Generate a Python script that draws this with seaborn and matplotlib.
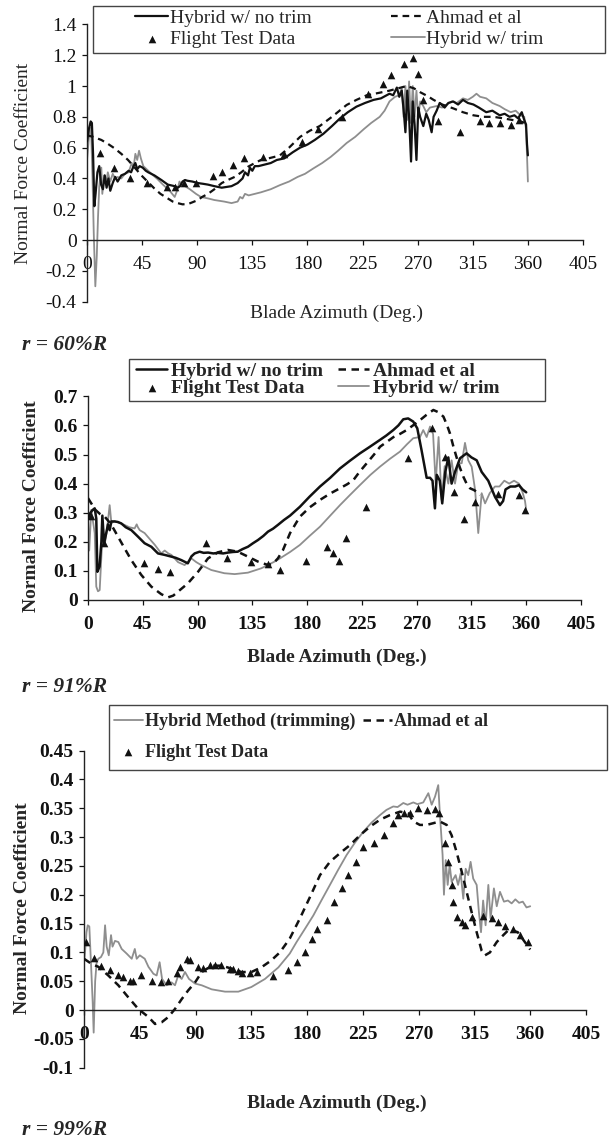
import numpy as np
import pandas as pd
import matplotlib
matplotlib.use("Agg")
import matplotlib.pyplot as plt
import seaborn as sns
from matplotlib.patches import Rectangle
from matplotlib.ticker import FixedLocator, FuncFormatter

# ---------------- data (azimuth deg, normal force coefficient) ----------------
az_ticks = [0, 45, 90, 135, 180, 225, 270, 315, 360, 405]
p1_yticks = [-0.4, -0.2, 0, 0.2, 0.4, 0.6, 0.8, 1.0, 1.2, 1.4]
p2_yticks = [0, 0.1, 0.2, 0.3, 0.4, 0.5, 0.6, 0.7]
p3_yticks = [-0.1, -0.05, 0, 0.05, 0.1, 0.15, 0.2, 0.25, 0.3, 0.35, 0.4, 0.45]

# r = 60%R
p1_notrim = [(0, 0.64), (1.5, 0.72), (3, 0.77), (4, 0.76), (5, 0.55), (6, 0.22), (7, 0.30), (8.5, 0.44),
             (10, 0.48), (11.5, 0.36), (13, 0.33), (14.5, 0.42), (16, 0.34), (17.5, 0.40), (19, 0.32),
             (21, 0.37), (23, 0.41), (25, 0.38), (28, 0.42), (31, 0.43), (34, 0.45), (36, 0.44), (38, 0.48),
             (39.5, 0.50), (41, 0.46), (43, 0.48), (45.5, 0.47), (48, 0.45), (50, 0.44), (55, 0.42),
             (60.7, 0.39), (66, 0.36), (71.6, 0.35), (74, 0.34), (76, 0.35), (78, 0.38), (80, 0.39),
             (82, 0.385), (86, 0.38), (90.6, 0.37), (95, 0.365), (98.8, 0.36), (104, 0.35), (110, 0.34),
             (114, 0.345), (118, 0.35), (123, 0.37), (127, 0.40), (129, 0.44), (131.5, 0.42), (133, 0.47),
             (135, 0.45), (137, 0.48), (140, 0.48), (145, 0.49), (150, 0.50), (155, 0.52), (161, 0.53),
             (168, 0.57), (174, 0.60), (180, 0.62), (186, 0.65), (193, 0.69), (200, 0.74), (206.6, 0.79),
             (213, 0.83), (220, 0.866), (227, 0.89), (234, 0.91), (240, 0.92), (247, 0.95), (250, 0.94),
             (253, 0.99), (255, 0.93), (257, 0.97), (258.5, 0.85), (260, 0.70), (261.5, 0.97), (263, 0.80),
             (264.6, 0.51), (266, 0.90), (267.5, 0.75), (269, 0.52), (270.5, 0.86), (272, 0.80),
             (274.6, 0.74), (277, 0.82), (279, 0.78), (281.4, 0.70), (283, 0.80), (285.5, 0.84), (288, 0.89),
             (292, 0.86), (295, 0.89), (299, 0.90), (303, 0.88), (307, 0.91), (311, 0.89), (315.5, 0.88),
             (320, 0.86), (326, 0.83), (331, 0.84), (337, 0.81), (341, 0.82), (345, 0.80), (349, 0.81),
             (352, 0.79), (355, 0.83), (357, 0.78), (358.5, 0.75), (359.3, 0.62), (360, 0.55)]
p1_trim = [(0, 0.52), (1.5, 0.66), (2.5, 0.73), (3.5, 0.68), (4.5, 0.40), (5.5, 0.05), (6.8, -0.30),
           (8, -0.10), (9, 0.15), (10, 0.35), (11.7, 0.47), (12.5, 0.30), (14, 0.42), (15.5, 0.36), (17, 0.44),
           (19, 0.38), (21, 0.43), (23, 0.40), (25, 0.41), (28, 0.40), (31, 0.43), (34, 0.44), (36.5, 0.50),
           (38, 0.47), (39.5, 0.56), (41, 0.52), (42.5, 0.58), (44, 0.53), (46, 0.48), (50, 0.45), (54, 0.42),
           (57, 0.40), (62, 0.36), (67.5, 0.32), (71.6, 0.28), (74, 0.33), (75.5, 0.38), (77, 0.36), (80, 0.35),
           (84, 0.33), (89, 0.30), (93, 0.28), (99, 0.27), (104, 0.26), (112, 0.25), (118, 0.24), (123, 0.25),
           (125, 0.28), (127, 0.27), (129, 0.30), (132, 0.29), (137, 0.30), (142, 0.31), (150, 0.33),
           (157.6, 0.357), (165, 0.38), (172, 0.41), (178, 0.43), (184.8, 0.465), (192, 0.50), (199, 0.54),
           (205, 0.58), (212, 0.63), (219, 0.67), (226, 0.72), (232, 0.76), (239, 0.80), (243, 0.84),
           (247, 0.90), (251.5, 0.93), (255, 0.94), (257, 0.99), (258.5, 0.80), (260, 1.0), (261.5, 0.78),
           (263, 1.03), (264.5, 0.76), (266, 1.0), (267.5, 0.80), (269, 0.97), (270.5, 0.79), (272, 0.90),
           (274.6, 0.87), (277, 0.83), (280, 0.86), (285.5, 0.87), (290, 0.86), (293.7, 0.88), (298, 0.90),
           (302, 0.89), (307, 0.92), (311, 0.91), (315, 0.93), (318, 0.95), (321, 0.93), (326, 0.92),
           (331, 0.89), (337, 0.87), (341, 0.85), (346, 0.83), (350, 0.84), (354, 0.81), (357, 0.80),
           (358.5, 0.72), (359.5, 0.50), (360, 0.38)]
p1_ahmad = [(0, 0.68), (5, 0.67), (11.7, 0.65), (17, 0.625), (22.6, 0.595), (28, 0.56), (33.5, 0.52),
            (39, 0.47), (44.4, 0.42), (50, 0.375), (55, 0.335), (60, 0.30), (66, 0.27), (70, 0.25), (74, 0.24),
            (78, 0.232), (82.5, 0.234), (86, 0.245), (90.6, 0.26), (94, 0.28), (98.8, 0.30), (104, 0.33),
            (110, 0.37), (115, 0.39), (120.6, 0.41), (126, 0.44), (131.5, 0.476), (137, 0.50), (142, 0.52),
            (148, 0.53), (153, 0.54), (157.6, 0.55), (165, 0.60), (174, 0.67), (182, 0.71), (190, 0.74),
            (200, 0.80), (212, 0.877), (220, 0.91), (228.4, 0.94), (238, 0.955), (247, 0.97), (254, 0.985),
            (261, 1.0), (267, 0.985), (272, 0.96), (278, 0.935), (283, 0.91), (290, 0.88), (299, 0.855),
            (307, 0.83), (315.5, 0.81), (324, 0.80), (332, 0.80), (340, 0.79), (347, 0.78), (354, 0.77),
            (358, 0.76), (360, 0.75)]
p1_flight_az = [10.6, 21.9, 34.8, 49, 65, 72, 79, 89, 103, 110.5, 119, 128, 144, 161, 175.5, 189, 208,
                229.6, 241.8, 248, 258.6, 266, 270, 274.5, 286.6, 304.6, 320.5, 328.5, 337, 346, 353]
p1_flight_cn = [0.565, 0.47, 0.40, 0.37, 0.345, 0.345, 0.37, 0.37, 0.415, 0.445, 0.49, 0.535, 0.54, 0.56,
                0.635, 0.72, 0.80, 0.95, 1.01, 1.07, 1.145, 1.18, 1.08, 0.91, 0.775, 0.70, 0.77, 0.76, 0.76,
                0.75, 0.78]

# r = 91%R
p2_notrim = [(0, 0.28), (2, 0.30), (4, 0.31), (5.5, 0.315), (6.8, 0.28), (7.7, 0.097), (9.5, 0.115),
             (11, 0.20), (11.8, 0.29), (13.2, 0.195), (15, 0.23), (16.4, 0.26), (17.8, 0.24), (19.2, 0.27),
             (21.9, 0.27), (24.6, 0.268), (27.4, 0.263), (31, 0.25), (35.6, 0.24), (41, 0.218), (46.5, 0.195),
             (52, 0.183), (57.5, 0.16), (63, 0.155), (68.5, 0.149), (72, 0.145), (76.7, 0.137), (82, 0.126),
             (85, 0.15), (87.6, 0.16), (91.7, 0.166), (95, 0.162), (98.6, 0.163), (103, 0.16), (106.8, 0.162),
             (111, 0.16), (115, 0.163), (119, 0.165), (123, 0.166), (127, 0.175), (131.4, 0.183),
             (135.5, 0.195), (139.6, 0.206), (144, 0.22), (147.9, 0.235), (152, 0.245), (156, 0.258),
             (161, 0.275), (166, 0.29), (174, 0.32), (182, 0.355), (190.6, 0.39), (199, 0.42), (207, 0.452),
             (215, 0.478), (223.4, 0.504), (231, 0.525), (239.8, 0.55), (245, 0.565), (250.8, 0.584),
             (255, 0.60), (259, 0.621), (263, 0.624), (267.2, 0.613), (270.5, 0.59), (274, 0.515),
             (278.2, 0.42), (281, 0.42), (283, 0.41), (285, 0.315), (286.5, 0.43), (289, 0.41), (291, 0.332),
             (293.5, 0.44), (296, 0.49), (298.7, 0.40), (301.5, 0.44), (305.6, 0.487), (311, 0.504),
             (315, 0.49), (319.3, 0.48), (323.4, 0.44), (328.8, 0.41), (334.3, 0.355), (338.4, 0.326),
             (341, 0.34), (343, 0.38), (347, 0.39), (351, 0.39), (354, 0.395), (357, 0.38), (360, 0.37)]
p2_trim = [(0, 0.286), (1, 0.17), (2.7, 0.31), (5.5, 0.23), (6.8, 0.046), (8.2, 0.03), (9.6, 0.034),
           (11, 0.15), (12.3, 0.25), (13.7, 0.19), (15.8, 0.25), (17.8, 0.326), (19.2, 0.265), (21.9, 0.27),
           (26, 0.265), (30, 0.258), (34, 0.25), (38.3, 0.246), (40, 0.26), (41, 0.25), (42.5, 0.24),
           (46.5, 0.23), (50.6, 0.21), (54.8, 0.19), (60.2, 0.16), (63, 0.17), (66, 0.16), (68.5, 0.155),
           (74, 0.13), (79.4, 0.12), (84.9, 0.143), (89, 0.13), (93, 0.12), (101.3, 0.103), (112, 0.092),
           (120.5, 0.089), (131.4, 0.094), (142.4, 0.109), (153.3, 0.132), (157.7, 0.143), (166, 0.165),
           (174, 0.189), (182, 0.22), (190.6, 0.252), (199, 0.29), (207, 0.326), (215, 0.36), (223.4, 0.395),
           (232, 0.43), (239.8, 0.458), (248, 0.485), (256.3, 0.51), (262, 0.535), (267.2, 0.556),
           (272.7, 0.56), (275.4, 0.584), (278.2, 0.56), (281, 0.596), (283.5, 0.57), (285.6, 0.40),
           (288, 0.56), (290.5, 0.344), (293, 0.46), (296, 0.40), (298.7, 0.48), (301.5, 0.40),
           (304.2, 0.47), (307, 0.47), (309.7, 0.54), (312.4, 0.48), (315.2, 0.458), (318, 0.378),
           (320.6, 0.23), (323.4, 0.367), (326.2, 0.332), (330, 0.367), (334.3, 0.39), (338, 0.39),
           (342, 0.41), (346, 0.40), (350, 0.41), (354, 0.40), (357, 0.37), (359, 0.34), (360, 0.31)]
p2_ahmad = [(0, 0.35), (3, 0.33), (6, 0.31), (10, 0.295), (14, 0.285), (18, 0.265), (21, 0.245),
            (24.6, 0.218), (30, 0.178), (35.6, 0.137), (43.8, 0.086), (52, 0.046), (60.2, 0.02),
            (65.7, 0.009), (70, 0.015), (74, 0.029), (82, 0.057), (90.4, 0.097), (98.6, 0.143),
            (106.8, 0.164), (115, 0.172), (123, 0.166), (131.4, 0.149), (139.6, 0.132), (148, 0.12),
            (152, 0.125), (156, 0.143), (160, 0.17), (166, 0.23), (174, 0.286), (182, 0.318), (190.6, 0.344),
            (199, 0.366), (207, 0.384), (213, 0.398), (218, 0.412), (223, 0.44), (229, 0.47), (235, 0.50),
            (240, 0.527), (246, 0.545), (251, 0.56), (256, 0.57), (261.8, 0.584), (267, 0.60), (272.7, 0.618),
            (278, 0.636), (283.7, 0.653), (288, 0.645), (292, 0.63), (295, 0.60), (297.3, 0.573), (300, 0.53),
            (302.8, 0.49), (305.5, 0.455), (308.3, 0.424), (311, 0.40), (313.8, 0.384), (317, 0.378),
            (320, 0.37), (322, 0.36)]
p2_flight_az = [2.2, 13, 46, 57.5, 67, 97.2, 114.5, 133.6, 148, 157.4, 179, 196, 201.5, 206, 211.6, 228.3,
                263, 282.3, 293.2, 300.6, 309, 318, 336.5, 353.7, 359]
p2_flight_cn = [0.289, 0.195, 0.126, 0.105, 0.097, 0.195, 0.143, 0.13, 0.124, 0.103, 0.135, 0.181, 0.163,
                0.135, 0.212, 0.32, 0.487, 0.59, 0.49, 0.372, 0.28, 0.338, 0.364, 0.36, 0.31]

# r = 99%R
p3_trim = [(0, 0.083), (1, 0.105), (2, 0.135), (3, 0.147), (4.3, 0.145), (5.6, 0.083), (7, 0.014),
           (7.8, -0.039), (9, 0.05), (10.2, 0.083), (11.6, 0.089), (13.7, 0.092), (15.6, 0.10), (17, 0.147),
           (18.3, 0.11), (20, 0.095), (21.8, 0.13), (23, 0.11), (25, 0.12), (27.7, 0.118), (30.4, 0.106),
           (34.4, 0.098), (38.5, 0.089), (41, 0.106), (42.5, 0.089), (45, 0.095), (49, 0.089), (52, 0.075),
           (56, 0.063), (58.6, 0.06), (61, 0.083), (63, 0.054), (66.7, 0.043), (70.7, 0.048), (73.4, 0.043),
           (76, 0.06), (78.8, 0.054), (81.5, 0.066), (84.7, 0.054), (89.6, 0.046), (95, 0.043), (103, 0.036),
           (113.8, 0.032), (124.5, 0.032), (135, 0.04), (146, 0.054), (156.8, 0.074), (166, 0.098),
           (171.5, 0.118), (178, 0.14), (185, 0.164), (191.5, 0.19), (198.4, 0.217), (205, 0.243),
           (211.9, 0.269), (218.5, 0.29), (225.3, 0.309), (232, 0.325), (238.8, 0.338), (244, 0.347),
           (249.5, 0.353), (253, 0.352), (257.6, 0.359), (261, 0.356), (265.7, 0.36), (269, 0.357),
           (273.7, 0.36), (277.8, 0.376), (280.5, 0.356), (283.2, 0.37), (285.8, 0.39), (287, 0.344),
           (289.3, 0.269), (290.4, 0.20), (291.8, 0.26), (293.4, 0.217), (295, 0.252), (296.6, 0.222),
           (298.2, 0.228), (299.8, 0.234), (301.8, 0.217), (303.9, 0.237), (306, 0.193), (307.9, 0.245),
           (310, 0.234), (311.9, 0.257), (314, 0.228), (316.8, 0.217), (318.6, 0.17), (320.3, 0.135),
           (322, 0.19), (324, 0.147), (326.2, 0.217), (328, 0.159), (330.7, 0.211), (333, 0.18),
           (335.6, 0.205), (338.8, 0.188), (342, 0.19), (345, 0.185), (348, 0.192), (351, 0.186),
           (354, 0.188), (357, 0.178), (360, 0.18)]
p3_ahmad = [(0, 0.089), (6.2, 0.08), (11.6, 0.075), (19.6, 0.06), (27.7, 0.043), (35.8, 0.022),
            (43.8, 0.002), (52, -0.012), (57.3, -0.024), (62.7, -0.021), (68, -0.012), (73.4, 0.002),
            (78.8, 0.019), (84, 0.034), (89.6, 0.048), (95, 0.066), (103, 0.077), (111, 0.077), (119, 0.072),
            (127, 0.066), (135, 0.066), (143, 0.074), (151, 0.086), (158, 0.10), (166, 0.124),
            (174.2, 0.159), (182.3, 0.196), (190.4, 0.234), (198.4, 0.257), (206.5, 0.272), (214.6, 0.286),
            (222.6, 0.303), (230.7, 0.318), (238.8, 0.33), (246.8, 0.338), (255, 0.344), (261.6, 0.341),
            (265.7, 0.327), (271, 0.321), (276.4, 0.321), (281.8, 0.324), (287, 0.327), (292.6, 0.321),
            (296.6, 0.303), (300.6, 0.274), (304.7, 0.24), (308.7, 0.205), (312.7, 0.17), (316.8, 0.135),
            (320.8, 0.103), (323.5, 0.095), (327.5, 0.10), (333, 0.118), (338.3, 0.13), (343, 0.14),
            (350, 0.135), (355, 0.12), (360, 0.105)]
p3_flight_az = [1.3, 8.1, 13.7, 21, 27.7, 31.7, 37.1, 39.8, 46, 54.6, 62.1, 68, 74.8, 77.5, 82.8, 85.5,
                92.2, 96.3, 101.7, 105.7, 110.5, 117.8, 120.5, 124.5, 127.2, 133.9, 139.3, 152.7, 164.3, 171.5,
                178.3, 183.6, 187.7, 195.8, 201.7, 207.9, 213.2, 219.4, 225.3, 234, 242.3, 249.5, 253.6, 258.1,
                263, 269.7, 276.4, 283.2, 286.6, 291.2, 293.9, 296.6, 298, 300.6, 304.7, 307.4, 312.7, 321.6,
                328.9, 334.3, 340, 346, 352, 358]
p3_flight_cn = [0.118, 0.09, 0.077, 0.069, 0.06, 0.057, 0.051, 0.05, 0.06, 0.05, 0.048, 0.051, 0.065, 0.074,
                0.089, 0.086, 0.074, 0.073, 0.079, 0.079, 0.079, 0.072, 0.071, 0.067, 0.064, 0.064, 0.066,
                0.059, 0.069, 0.083, 0.10, 0.124, 0.141, 0.156, 0.188, 0.211, 0.234, 0.257, 0.283, 0.289,
                0.303, 0.324, 0.338, 0.341, 0.342, 0.351, 0.347, 0.349, 0.341, 0.289, 0.257, 0.217, 0.188,
                0.161, 0.153, 0.148, 0.161, 0.163, 0.159, 0.153, 0.145, 0.14, 0.13, 0.118]

# ---------------- styling ----------------
sns.set_style("ticks")
plt.rcParams['font.family'] = ['Liberation Serif', 'DejaVu Serif']
plt.rcParams['axes.unicode_minus'] = False

W, H = 614, 1141
fig = plt.figure(figsize=(W / 100, H / 100), dpi=100)
fig.patch.set_facecolor('white')

GRAY = '#8e8e8e'
BLACK = '#111111'
DASH = (0, (3.0, 2.2))


def F(px, py):
    return (px / W, 1 - py / H)


def axes_px(x0, x1, ytop, ybot):
    return fig.add_axes([x0 / W, 1 - ybot / H, (x1 - x0) / W, (ybot - ytop) / H])


def df_of(pairs):
    return pd.DataFrame(pairs, columns=['az', 'cn'])


def fmt(v, pos=None):
    return '%g' % round(v, 3)


def style_axes(ax, ylim, yticks, weight, zero_spine, fs):
    ax.set_xlim(0, 405)
    ax.set_ylim(*ylim)
    ax.xaxis.set_major_locator(FixedLocator(az_ticks))
    ax.yaxis.set_major_locator(FixedLocator(yticks))
    ax.yaxis.set_major_formatter(FuncFormatter(fmt))
    ax.xaxis.set_major_formatter(FuncFormatter(fmt))
    for s in ['top', 'right']:
        ax.spines[s].set_visible(False)
    if zero_spine:
        ax.spines['bottom'].set_position(('data', 0))
    for s in ['left', 'bottom']:
        ax.spines[s].set_color('#222222')
        ax.spines[s].set_linewidth(1.0)
    ax.tick_params(axis='x', direction='out', length=3.5, width=0.9, pad=8, labelsize=fs, colors='#111111')
    ax.tick_params(axis='y', direction='out', length=3.5, width=0.9, pad=4, labelsize=fs, colors='#111111')
    for lab in ax.get_xticklabels() + ax.get_yticklabels():
        lab.set_fontweight(weight)
    ax.set_xlabel('')
    ax.set_ylabel('')
    ax.set_facecolor('white')


def draw(ax, trim=None, ahmad=None, notrim=None, f_az=None, f_cn=None, labels=None, lw=1.6):
    if trim is not None:
        sns.lineplot(data=df_of(trim), x='az', y='cn', ax=ax, color=GRAY, lw=1.3,
                     estimator=None, sort=False, label=labels['trim'], zorder=2, legend=False)
    if ahmad is not None:
        sns.lineplot(data=df_of(ahmad), x='az', y='cn', ax=ax, color=BLACK, lw=lw, linestyle=DASH,
                     estimator=None, sort=False, label=labels['ahmad'], zorder=3, legend=False)
    if notrim is not None:
        sns.lineplot(data=df_of(notrim), x='az', y='cn', ax=ax, color=BLACK, lw=lw,
                     estimator=None, sort=False, label=labels['notrim'], zorder=4, legend=False)
    sns.scatterplot(x=f_az, y=f_cn, ax=ax, marker='^', s=30, color=BLACK, linewidth=0,
                    label=labels['flight'], zorder=5, legend=False)


def add_legend(ax, order, anchor, fs, weight, hl, htp, cs, ls, box):
    h, l = ax.get_legend_handles_labels()
    d = dict(zip(l, h))
    hs = [d[k] for k in order]
    leg = fig.legend(hs, order, loc='upper left', bbox_to_anchor=F(*anchor), bbox_transform=fig.transFigure,
                     ncol=2, frameon=False, borderpad=0, borderaxespad=0, handlelength=hl,
                     handletextpad=htp, columnspacing=cs, labelspacing=ls,
                     prop={'family': 'Liberation Serif', 'size': fs, 'weight': weight})
    x0, y0, x1, y1 = box
    fig.add_artist(Rectangle(F(x0, y1), (x1 - x0) / W, (y1 - y0) / H, transform=fig.transFigure,
                             fill=False, edgecolor='#444444', lw=1.0))
    return leg


# ---------------- panel 1 : r = 60%R ----------------
ax1 = axes_px(87, 583, 24.4, 301.7)
lab1 = {'trim': 'Hybrid w/ trim', 'ahmad': 'Ahmad et al', 'notrim': 'Hybrid w/ no trim', 'flight': 'Flight Test Data'}
draw(ax1, p1_trim, p1_ahmad, p1_notrim, p1_flight_az, p1_flight_cn, lab1, lw=1.6)
style_axes(ax1, (-0.4, 1.4), p1_yticks, 'normal', True, 14)
add_legend(ax1, ['Hybrid w/ no trim', 'Flight Test Data', 'Ahmad et al', 'Hybrid w/ trim'],
           (135, 9), 14, 'normal', 1.7, 0.1, 4.1, 0.18, (93, 6, 605, 53))
fig.text(*F(24, 163), 'Normal Force Coefficient', rotation=90, ha='center', va='center', fontsize=14)
fig.text(*F(336, 313), 'Blade Azimuth (Deg.)', ha='center', va='center', fontsize=14)
fig.text(*F(22, 345), 'r = 60%R', ha='left', va='center', fontsize=15.5, fontweight='bold', fontstyle='italic')

# ---------------- panel 2 : r = 91%R ----------------
ax2 = axes_px(88, 581, 396.3, 600)
draw(ax2, p2_trim, p2_ahmad, p2_notrim, p2_flight_az, p2_flight_cn, lab1, lw=1.8)
style_axes(ax2, (0, 0.7), p2_yticks, 'bold', False, 14)
add_legend(ax2, ['Hybrid w/ no trim', 'Flight Test Data', 'Ahmad et al', 'Hybrid w/ trim'],
           (136, 362), 14, 'bold', 1.6, 0.2, 0.75, 0.0, (129, 359, 545, 401))
fig.text(*F(32, 506), 'Normal Force Coefficient', rotation=90, ha='center', va='center', fontsize=14,
         fontweight='bold')
fig.text(*F(337, 657), 'Blade Azimuth (Deg.)', ha='center', va='center', fontsize=14, fontweight='bold')
fig.text(*F(22, 687), 'r = 91%R', ha='left', va='center', fontsize=15.5, fontweight='bold', fontstyle='italic')

# ---------------- panel 3 : r = 99%R ----------------
ax3 = axes_px(84, 586, 750.5, 1067.8)
lab3 = {'trim': 'Hybrid Method (trimming)', 'ahmad': 'Ahmad et al', 'notrim': None, 'flight': 'Flight Test Data'}
draw(ax3, p3_trim, p3_ahmad, None, p3_flight_az, p3_flight_cn, lab3, lw=1.8)
style_axes(ax3, (-0.1, 0.45), p3_yticks, 'bold', True, 14)
add_legend(ax3, ['Hybrid Method (trimming)', 'Flight Test Data', 'Ahmad et al'],
           (114, 713), 13, 'bold', 1.6, 0.1, 0.45, 0.75, (109, 705, 607, 770))
fig.text(*F(23, 908), 'Normal Force Coefficient', rotation=90, ha='center', va='center', fontsize=14,
         fontweight='bold')
fig.text(*F(337, 1103), 'Blade Azimuth (Deg.)', ha='center', va='center', fontsize=14, fontweight='bold')
fig.text(*F(22, 1130), 'r = 99%R', ha='left', va='center', fontsize=15.5, fontweight='bold', fontstyle='italic')

fig.savefig('out.png', dpi=100, facecolor='white')
